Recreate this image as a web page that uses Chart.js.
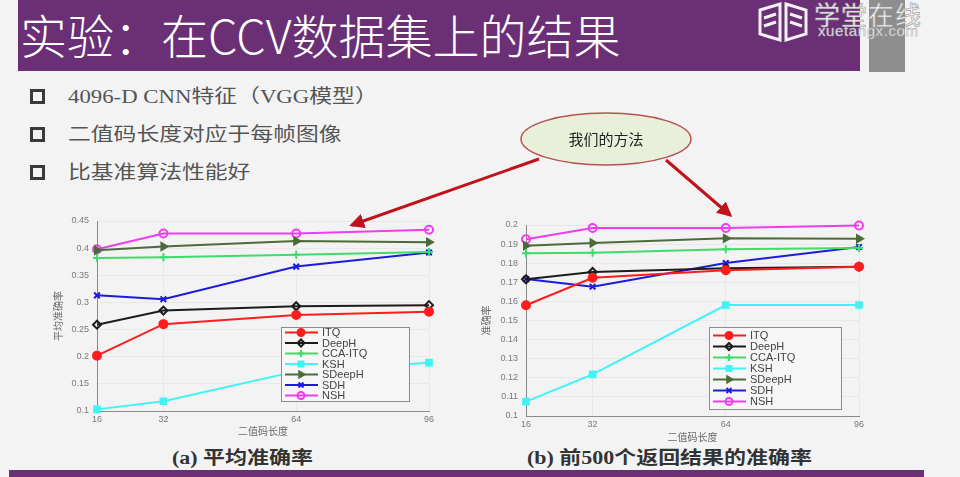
<!DOCTYPE html>
<html>
<head>
<meta charset="utf-8">
<script src="https://cdn.jsdelivr.net/npm/chart.js@4.4.1/dist/chart.umd.min.js"></script>
<style>
  body { margin: 0; width: 960px; height: 477px; background: #f3f3f3; position: relative; overflow: hidden;
         font-family: "Noto Sans CJK SC", sans-serif; }
  .abs { position: absolute; }
  #titlebar { left: 18px; top: 0; width: 842px; height: 71px; background: #6b2f76; }
  #title { left: 20px; top: 2px; color: #fff; font-size: 47px; font-weight: 300; line-height: 64px; white-space: nowrap; }
  #graybar { left: 869px; top: 0; width: 36px; height: 72px; background: #8e8e8e; }
  #logo1 { left: 814px; top: -5px; color: #f4f4f4; font-size: 26px; letter-spacing: 1px; white-space: nowrap;
           -webkit-text-stroke: 0.6px #9a9a9a; }
  #logo2 { left: 818px; top: 22px; color: #f4f4f4; font-size: 15px; letter-spacing: 0.6px; font-family: "Liberation Sans", sans-serif;
           white-space: nowrap; -webkit-text-stroke: 0.4px #9a9a9a; }
  .bullet { width: 9px; height: 9px; border: 3px solid #3a3a3a; background: #f3f3f3; }
  .btext { left: 68px; color: #555; font-size: 19px; white-space: nowrap; transform: scaleX(1.2); transform-origin: left center;
           font-family: "Liberation Serif", "Noto Sans CJK SC", serif; line-height: 24px; }
  .caption { color: #333; font-size: 18px; white-space: nowrap; transform: scaleX(1.22); transform-origin: left center;
             font-family: "Liberation Serif", "Noto Sans CJK SC", serif; font-weight: bold; line-height: 22px; }
  #bottombar { left: 9px; top: 470px; width: 915px; height: 7px; background: #6b2f76; }
  canvas { position: absolute; }
  #overlay { position: absolute; left: 0; top: 0; }
</style>
</head>
<body>
<div id="titlebar" class="abs"></div>
<div id="title" class="abs">实验：在CCV数据集上的结果</div>
<div id="graybar" class="abs"></div>
<svg class="abs" style="left:756px;top:2px" width="54" height="42">
  <g fill="none" stroke="#f2f2f2" stroke-width="3">
    <path d="M4 8 L24 2 L24 38 L4 32 Z"/>
    <path d="M30 2 L50 8 L50 32 L30 38 Z"/>
    <path d="M8 16 L20 12 M8 24 L20 20 M34 12 L46 16 M34 20 L46 24"/>
  </g>
</svg>
<div id="logo1" class="abs">学堂在线</div>
<div id="logo2" class="abs">xuetangx.com</div>

<div class="abs bullet" style="left:30px;top:89px"></div>
<div class="abs bullet" style="left:30px;top:127px"></div>
<div class="abs bullet" style="left:30px;top:165px"></div>
<div class="abs btext" style="top:85px">4096-D CNN特征（VGG模型）</div>
<div class="abs btext" style="top:123px">二值码长度对应于每帧图像</div>
<div class="abs btext" style="top:161px">比基准算法性能好</div>

<canvas id="chartA" style="left:40px;top:205px" width="420" height="232"></canvas>
<canvas id="chartB" style="left:470px;top:205px" width="400" height="238"></canvas>

<div class="abs caption" style="left:172px;top:447px">(a) 平均准确率</div>
<div class="abs caption" style="left:527px;top:447px">(b) 前500个返回结果的准确率</div>
<div id="bottombar" class="abs"></div>

<svg id="overlay" width="960" height="477">
  <defs>
    <marker id="head" viewBox="0 0 10 10" refX="8" refY="5" markerWidth="5" markerHeight="5" orient="auto">
      <path d="M0 0 L10 5 L0 10 Z" fill="#c0121c"/>
    </marker>
  </defs>
  <line x1="539" y1="159" x2="352" y2="225" stroke="#c0121c" stroke-width="3" marker-end="url(#head)"/>
  <line x1="666" y1="160" x2="730" y2="215" stroke="#c0121c" stroke-width="3" marker-end="url(#head)"/>
  <ellipse cx="606" cy="139" rx="85" ry="26" fill="#e8f0d9" stroke="#b8514f" stroke-width="1.5"/>
  <text x="606" y="145" text-anchor="middle" font-size="15" fill="#222" font-family="Noto Sans CJK SC">我们的方法</text>
</svg>

<script>
const codeLengths = [16, 32, 64, 96];
const seriesNames = ['ITQ', 'DeepH', 'CCA-ITQ', 'KSH', 'SDeepH', 'SDH', 'NSH'];

// (a) 平均准确率
const mapITQ    = [0.202, 0.260, 0.277, 0.283];
const mapDeepH  = [0.259, 0.285, 0.293, 0.295];
const mapCCAITQ = [0.382, 0.383, 0.388, 0.393];
const mapKSH    = [0.103, 0.118, 0.173, 0.189];
const mapSDeepH = [0.396, 0.403, 0.413, 0.411];
const mapSDH    = [0.313, 0.306, 0.366, 0.392];
const mapNSH    = [0.398, 0.427, 0.427, 0.434];

// (b) 前500个返回结果的准确率
const precITQ    = [0.1580, 0.1724, 0.1763, 0.1782];
const precDeepH  = [0.1716, 0.1754, 0.1773, 0.1782];
const precCCAITQ = [0.1852, 0.1855, 0.1873, 0.1880];
const precKSH    = [0.1075, 0.1218, 0.1581, 0.1581];
const precSDeepH = [0.1892, 0.1906, 0.1930, 0.1928];
const precSDH    = [0.1717, 0.1677, 0.1801, 0.1885];
const precNSH    = [0.1925, 0.1984, 0.1984, 0.1997];

const ticksA = [0.1, 0.15, 0.2, 0.25, 0.3, 0.35, 0.4, 0.45];
const ticksB = [0.1, 0.11, 0.12, 0.13, 0.14, 0.15, 0.16, 0.17, 0.18, 0.19, 0.2];

// marker look per method (MATLAB-like)
const looks = {
  'ITQ':     { color: '#ff1c1c', style: 'circle',   fill: true,  rot: 0 },
  'DeepH':   { color: '#1c1c1c', style: 'rectRot',  fill: false, rot: 0 },
  'CCA-ITQ': { color: '#3fdc6c', style: 'cross',    fill: false, rot: 0 },
  'KSH':     { color: '#3ff4f4', style: 'rect',     fill: true,  rot: 0 },
  'SDeepH':  { color: '#4d6b3a', style: 'triangle', fill: true,  rot: 90 },
  'SDH':     { color: '#1c1cdc', style: 'crossRot', fill: false, rot: 0 },
  'NSH':     { color: '#f03cf0', style: 'circle',   fill: false, rot: 0 }
};

function makeDatasets(seriesList) {
  return seriesNames.map((name, i) => {
    const lk = looks[name];
    return {
      label: name,
      data: codeLengths.map((x, j) => ({ x: x, y: seriesList[i][j] })),
      borderColor: lk.color,
      backgroundColor: lk.color,
      pointBackgroundColor: lk.fill ? lk.color : 'rgba(0,0,0,0)',
      pointBorderColor: lk.color,
      pointStyle: lk.style,
      pointRotation: lk.rot,
      pointRadius: 4,
      pointBorderWidth: 2,
      borderWidth: 2,
      tension: 0,
      clip: false
    };
  });
}

// legend drawn inside the plot, like the MATLAB figure
const insideLegend = {
  id: 'insideLegend',
  afterDraw(chart, args, o) {
    const ctx = chart.ctx;
    ctx.save();
    ctx.fillStyle = '#f6f6f6';
    ctx.fillRect(o.x, o.y, o.w, o.h);
    ctx.strokeStyle = '#8c8c8c';
    ctx.lineWidth = 1;
    ctx.strokeRect(o.x + 0.5, o.y + 0.5, o.w, o.h);
    ctx.font = '11px "Liberation Sans", Arial, sans-serif';
    ctx.textBaseline = 'middle';
    chart.data.datasets.forEach((ds, i) => {
      const cy = o.y + o.first + i * o.rowH;
      ctx.strokeStyle = ds.borderColor;
      ctx.lineWidth = 2;
      ctx.beginPath();
      ctx.moveTo(o.x + 4, cy);
      ctx.lineTo(o.x + 37, cy);
      ctx.stroke();
      ctx.fillStyle = ds.pointBackgroundColor;
      ctx.strokeStyle = ds.pointBorderColor;
      Chart.helpers.drawPoint(ctx, { pointStyle: ds.pointStyle, rotation: ds.pointRotation,
        radius: 3.5, borderWidth: 2 }, o.x + 20, cy);
      ctx.fillStyle = '#444';
      ctx.fillText(ds.label, o.x + 41, cy + 0.5);
    });
    ctx.restore();
  }
};

function makeChart(id, seriesList, yTicks, yMin, yMax, yTitle, lay) {
  const tickFont = { family: '"Liberation Sans", Arial, sans-serif', size: 9 };
  const titleFont = { family: '"Noto Sans CJK SC", sans-serif', size: 10 };
  return new Chart(document.getElementById(id), {
    type: 'line',
    data: { datasets: makeDatasets(seriesList) },
    options: {
      responsive: false,
      animation: false,
      layout: { padding: lay.padding },
      plugins: { legend: { display: false }, tooltip: { enabled: false }, insideLegend: lay.legend },
      scales: {
        x: {
          type: 'linear', min: 16, max: 96,
          afterBuildTicks: s => { s.ticks = codeLengths.map(v => ({ value: v })); },
          afterFit: s => { s.height = lay.xH; },
          ticks: { font: tickFont, color: '#7a7a7a', padding: 3, callback: v => String(v) },
          grid: { color: '#e8e8e8', drawTicks: false },
          border: { color: '#8a8a8a', width: 1 },
          title: { display: true, text: '二值码长度', font: titleFont, color: '#6a6a6a', padding: 0 }
        },
        y: {
          min: yMin, max: yMax,
          afterBuildTicks: s => { s.ticks = yTicks.map(v => ({ value: v })); },
          afterFit: s => { s.width = lay.yW; },
          ticks: { font: tickFont, color: '#7a7a7a', padding: 8, callback: v => String(v) },
          grid: { color: '#e8e8e8', drawTicks: false },
          border: { color: '#8a8a8a', width: 1 },
          title: { display: true, text: yTitle, font: titleFont, color: '#6a6a6a', padding: 0 }
        }
      }
    },
    plugins: [insideLegend]
  });
}

makeChart('chartA',
  [mapITQ, mapDeepH, mapCCAITQ, mapKSH, mapSDeepH, mapSDH, mapNSH],
  ticksA, 0.1, 0.45, '平均准确率',
  { padding: { top: 16, right: 31, left: 12, bottom: 0 }, xH: 26, yW: 45,
    legend: { x: 241, y: 122, w: 128, h: 74, first: 5.5, rowH: 10.5 } });

makeChart('chartB',
  [precITQ, precDeepH, precCCAITQ, precKSH, precSDeepH, precSDH, precNSH],
  ticksB, 0.1, 0.2, '准确率',
  { padding: { top: 20, right: 11, left: 10, bottom: 0 }, xH: 27, yW: 46,
    legend: { x: 239, y: 122, w: 132, h: 82, first: 8.5, rowH: 11 } });
</script>
</body>
</html>
